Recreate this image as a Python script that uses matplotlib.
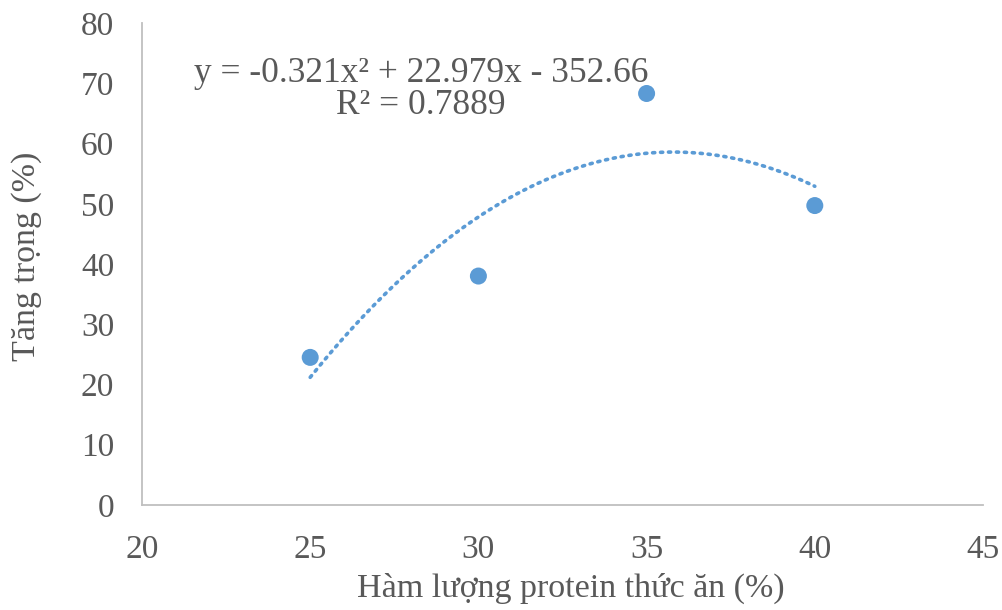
import matplotlib.pyplot as plt
import numpy as np

plt.rcParams['font.family'] = ['Liberation Serif', 'DejaVu Serif']

protein = [25, 30, 35, 40]
tang_trong = [24.5, 38.0, 68.3, 49.7]
# he so duong xu huong (bac 2) doc tu hinh
coef = [-0.321, 22.979, -352.66]
r2 = 0.7889

grey = '#595959'
blue = '#5B9BD5'

fig = plt.figure(figsize=(10.03, 6.10), dpi=100)
ax = fig.add_axes([142/1003, 105/610, (983-142)/1003, (505-23)/610])

ax.scatter(protein, tang_trong, s=150, color=blue, zorder=3, edgecolors='none')

xs = np.linspace(min(protein), max(protein), 200)
ax.plot(xs, np.polyval(coef, xs), color=blue, lw=2.6,
        linestyle=(0, (0.6, 1.6)), dash_capstyle='round')

ax.text(28.3, 69.0, "y = -0.321x² + 22.979x - 352.66\nR² = %.4f" % r2,
        ha='center', va='center', multialignment='center',
        fontsize=25.5, color=grey, linespacing=0.95)

ax.set_xlim(20, 45)
ax.set_ylim(0, 80)
ax.set_xticks(range(20, 46, 5))
ax.set_yticks(range(0, 81, 10))
ax.tick_params(length=0, labelsize=24, labelcolor=grey)
ax.tick_params(axis='x', pad=21)
ax.tick_params(axis='y', pad=20)
for s in ['top', 'right']:
    ax.spines[s].set_visible(False)
for s in ['left', 'bottom']:
    ax.spines[s].set_color('#BFBFBF')
    ax.spines[s].set_linewidth(1.3)

ax.set_xlabel("Hàm lượng protein thức ăn (%)", fontsize=24.5, color=grey, va='center')
ax.set_ylabel("Tăng trọng (%)", fontsize=24.5, color=grey, va='center')
ax.xaxis.set_label_coords((571-142)/841, (505-588)/482)
ax.yaxis.set_label_coords((27-142)/841, (505-256)/482)

fig.savefig("out.png", dpi=100)
